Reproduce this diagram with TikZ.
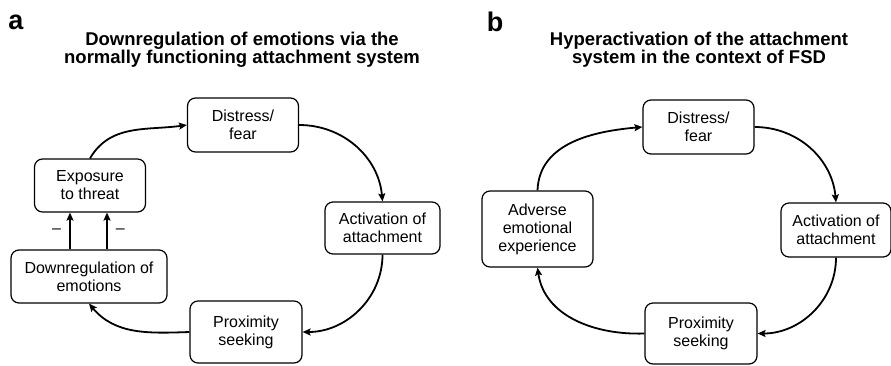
\documentclass[tikz,border=0pt]{standalone}
\usepackage{fontspec}
\setmainfont{Liberation Sans}
\usetikzlibrary{quotes,arrows.meta}

\begin{document}
\begin{tikzpicture}[x=1pt,y=1pt,
    box/.style={draw,rounded corners=8pt,line width=1.2pt,inner sep=0pt,align=center,
      font=\fontsize{16}{18}\selectfont},
    arr/.style={-{Stealth[length=8pt,width=7pt,inset=1.5pt]},line width=1.8pt},
    ttl/.style={align=center,font=\bfseries\fontsize{18.5}{18.3}\selectfont},
    lbl/.style={font=\bfseries\fontsize{27}{27}\selectfont}]
    \useasboundingbox (0,0) rectangle (891,-365);
    % a
    \node[lbl] (la) at (16,-22) {a};
    \node[ttl] (ta) at (242,-50) {Downregulation of emotions via the\\normally functioning attachment system};
    \node[box,minimum width=111pt,minimum height=54pt] (da) at (243,-125) {Distress/\\fear};
    \node[box,minimum width=115pt,minimum height=52pt] (aa) at (382.5,-228) {Activation of\\attachment};
    \node[box,minimum width=112pt,minimum height=62pt] (pa) at (246,-332) {Proximity\\seeking};
    \node[box,minimum width=156pt,minimum height=53pt] (ra) at (89,-276.5) {Downregulation of\\emotions};
    \node[box,minimum width=111pt,minimum height=53pt] (ea) at (90,-185.5) {Exposure\\to threat};
    \coordinate (l1) at ([xshift=-19pt]ra.north);
    \coordinate (l2) at ([xshift=18pt]ra.north);
    \path[arr] (ea.north) edge[out=60,in=188] (da.west)
        (da.east) edge[out=0,in=95] (aa.north)
        (aa.south) edge[out=-90,in=0] (pa.east)
        (pa.west) edge[out=182,in=-50] (ra.south)
        (l1) edge["\textendash"{inner sep=8pt,font=\fontsize{16}{18}\selectfont}] (l1 |- ea.south)
        (l2) edge["\textendash"'{inner sep=8pt,font=\fontsize{16}{18}\selectfont}] (l2 |- ea.south);
    % b
    \node[lbl] (lb) at (495,-22) {b};
    \node[ttl] (tb) at (699,-50) {Hyperactivation of the attachment\\system in the context of FSD};
    \node[box,minimum width=111pt,minimum height=54pt] (db) at (698.5,-127) {Distress/\\fear};
    \node[box,minimum width=110pt,minimum height=54pt] (cb) at (836,-230) {Activation of\\attachment};
    \node[box,minimum width=112pt,minimum height=61pt] (pb) at (701,-333.5) {Proximity\\seeking};
    \node[box,minimum width=111pt,minimum height=76pt] (ab) at (537.5,-229) {Adverse\\emotional\\experience};
    \path[arr] (ab.north) edge[out=88,in=185] (db.west)
        (db.east) edge[out=0,in=95] (cb.north)
        (cb.south) edge[out=-90,in=0] (pb.east)
        (pb.west) edge[out=182,in=-82] (ab.south);
\end{tikzpicture}
\end{document}
